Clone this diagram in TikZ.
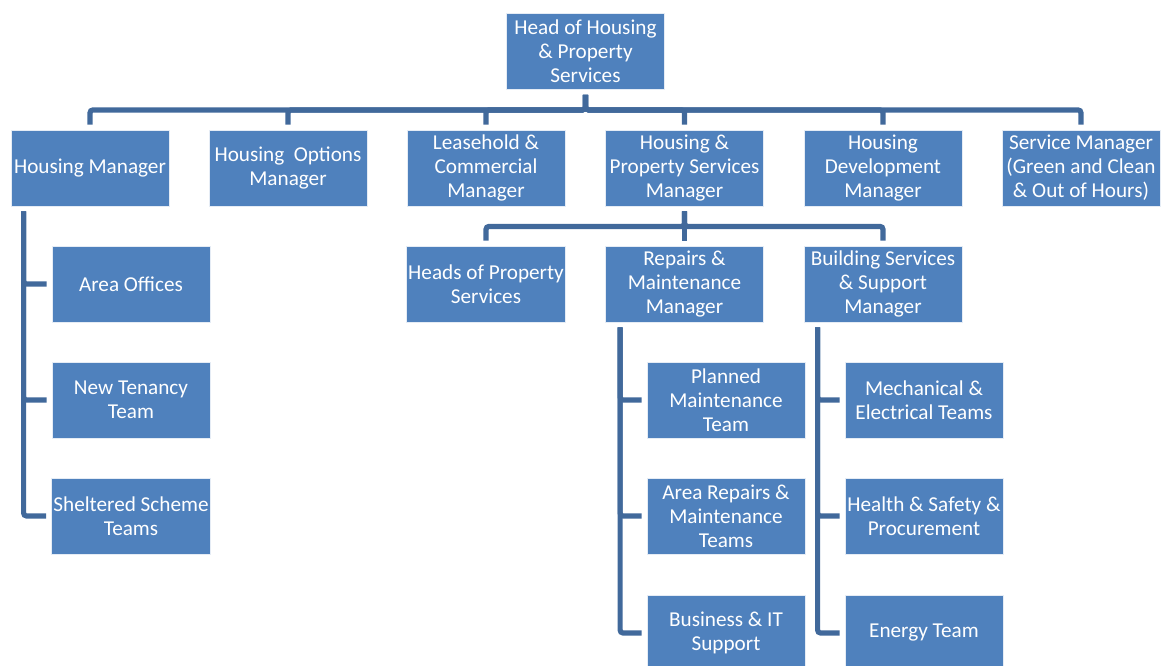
\documentclass[tikz,border=0pt]{standalone}
\usepackage{fontspec}
\setmainfont{Carlito}
\definecolor{boxblue}{HTML}{4F81BD}
\definecolor{linkblue}{HTML}{41699B}
\tikzset{
    post/.style={rectangle,draw=white!85!boxblue,line width=0.4pt,fill=boxblue,
        text=white,font=\fontsize{10.6}{12}\selectfont,align=center,
        minimum width=79pt,minimum height=38pt,inner sep=1pt},
    link/.style={draw=linkblue,line width=2.6pt,rounded corners=1.5pt,
        shorten <=2.5pt,shorten >=2.5pt}
}
\begin{document}
\begin{tikzpicture}[x=0.5pt,y=-0.5pt]
        \useasboundingbox (0,0) rectangle (1168,665);
        \begin{scope}[every node/.style={post}]
        \node (head) at (585.5,51.5) {Head of Housing\\ \& Property\\ Services};
        % first row
        \node (hm) at (90,168) {Housing Manager};
        \node (ho) at (288,168) {Housing\ \ Options\\ Manager};
        \node (lc) at (486,168) {Leasehold \&\\ Commercial\\ Manager};
        \node (hps) at (684.5,168) {Housing \&\\ Property Services\\ Manager};
        \node (hd) at (883,168) {Housing\\ Development\\ Manager};
        \node (sm) at (1081,168) {Service Manager\\ (Green and Clean\\ \& Out of Hours)};
        % second row
        \node (hp) at (486,284) {Heads of Property\\ Services};
        \node (rm) at (684.5,284) {Repairs \&\\ Maintenance\\ Manager};
        \node (bs) at (883,284) {Building Services\\ \& Support\\ Manager};
        % teams
        \node (ao) at (131,284) {Area Offices};
        \node (nt) at (131,400) {New Tenancy\\ Team};
        \node (ss) at (131,516) {Sheltered Scheme\\ Teams};
        \node (pm) at (726,400) {Planned\\ Maintenance\\ Team};
        \node (ar) at (726,516) {Area Repairs \&\\ Maintenance\\ Teams};
        \node (bi) at (726,633) {Business \& IT\\ Support};
        \node (me) at (924,400) {Mechanical \&\\ Electrical Teams};
        \node (hs) at (924,516) {Health \& Safety \&\\ Procurement};
        \node (et) at (924,633) {Energy Team};
        \end{scope}
        \foreach \n in {hm,ho,lc,hps,hd,sm}
            \path[link] (head.south) -- ++(0,20) -| (\n.north);
        \foreach \n in {hp,rm,bs}
            \path[link] (hps.south) -- ++(0,20) -| (\n.north);
        \foreach \n in {ao,nt,ss}
            \path[link] ([xshift=6.5pt]hm.south west) |- (\n.west);
        \foreach \n in {pm,ar,bi}
            \path[link] ([xshift=7.5pt]rm.south west) |- (\n.west);
        \foreach \n in {me,hs,et}
            \path[link] ([xshift=7pt]bs.south west) |- (\n.west);
    \end{tikzpicture}
\end{document}
